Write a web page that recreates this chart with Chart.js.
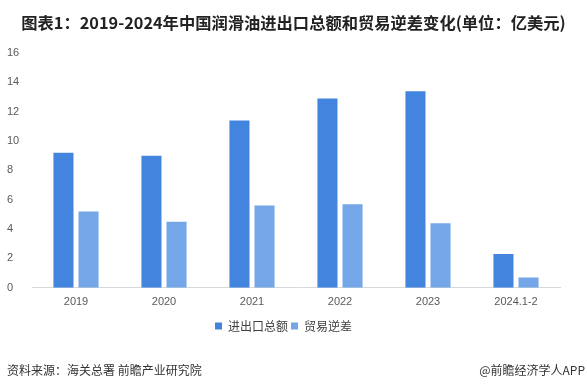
<!DOCTYPE html>
<html>
<head>
<meta charset="utf-8">
<script src="https://cdn.jsdelivr.net/npm/chart.js@4"></script>
<style>
  html, body { margin: 0; padding: 0; background: #fff; }
  #wrap { position: relative; width: 587px; height: 389px; overflow: hidden; }
  #chart { position: absolute; left: 0; top: 0; }
  .txt { position: absolute; white-space: nowrap; font-family: "Noto Sans CJK SC", "Liberation Sans", sans-serif; }
  #title { left: 0; width: 587px; top: 10px; text-align: center; font-size: 16.3px; font-weight: bold; color: #222; }
  #source { left: 7px; top: 361px; font-size: 12px; color: #333; }
  #brand { right: 2px; top: 361px; font-size: 12px; color: #333; }
</style>
</head>
<body>
<div id="wrap">
  <canvas id="chart" width="587" height="389"></canvas>
  <div class="txt" id="title">图表1：2019-2024年中国润滑油进出口总额和贸易逆差变化(单位：亿美元)</div>
  <div class="txt" id="source">资料来源：海关总署 前瞻产业研究院</div>
  <div class="txt" id="brand">@前瞻经济学人APP</div>
</div>
<script>
  // ── Data ──────────────────────────────────────────────────────────────────
  const years        = ['2019', '2020', '2021', '2022', '2023', '2024.1-2'];
  const totalTrade   = [9.2, 9.0, 11.4, 12.9, 13.4, 2.3];   // 进出口总额
  const tradeDeficit = [5.2, 4.5, 5.6, 5.7, 4.4, 0.7];     // 贸易逆差
  const yTicks       = [0, 2, 4, 6, 8, 10, 12, 14, 16];

  const DARK  = '#4284de';
  const LIGHT = '#75a7e8';
  const TICK  = '#595959';

  new Chart(document.getElementById('chart'), {
    type: 'bar',
    data: {
      labels: years,
      datasets: [
        { label: '进出口总额', data: totalTrade,   backgroundColor: DARK },
        { label: '贸易逆差',   data: tradeDeficit, backgroundColor: LIGHT },
      ],
    },
    options: {
      responsive: false,
      animation: false,
      devicePixelRatio: 1,
      categoryPercentage: 0.57,
      barPercentage: 0.8,
      layout: { padding: { left: 7, right: 27, top: 53, bottom: 47 } },
      plugins: {
        title: { display: false },
        tooltip: { enabled: false },
        legend: {
          position: 'bottom',
          labels: {
            boxWidth: 7, boxHeight: 7, padding: 3,
            color: '#404040',
            font: { family: '"Noto Sans CJK SC", sans-serif', size: 12 },
          },
        },
      },
      scales: {
        x: {
          grid: { display: false, drawTicks: false },
          border: { color: '#d9d9d9', width: 1 },
          ticks: {
            color: TICK, padding: 8,
            font: { family: '"Liberation Sans", sans-serif', size: 11 },
          },
        },
        y: {
          min: 0, max: 16,
          afterBuildTicks: s => { s.ticks = yTicks.map(v => ({ value: v })); },
          afterFit: s => { s.width = 25; },
          grid: { display: false, drawTicks: false },
          border: { display: false },
          ticks: {
            color: TICK, padding: 0, crossAlign: 'far',
            font: { family: '"Liberation Sans", sans-serif', size: 11 },
          },
        },
      },
    },
  });
</script>
</body>
</html>
